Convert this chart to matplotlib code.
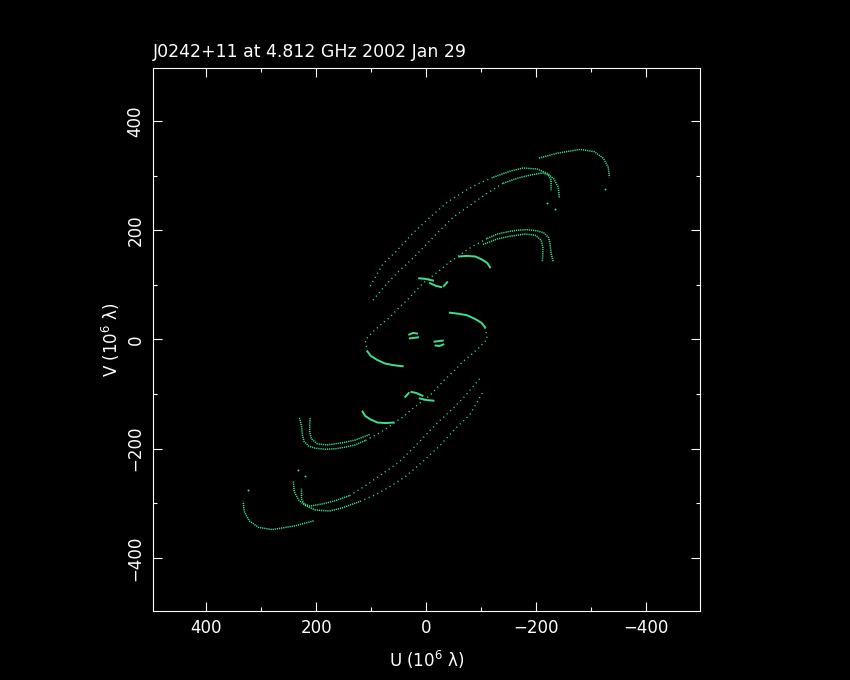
import numpy as np
import matplotlib.pyplot as plt

title = 'J0242+11 at 4.812 GHz 2002 Jan 29'
green = '#3de08c'

# outermost arc, top right
a_u = [-205, -238, -280, -305, -322, -331, -333]
a_v = [332, 341, 348, 344, 332, 315, 297]

# long outer track: fast part, then the hook
b_line_u = [102, 79, 53, 24, -7, -38, -67, -92, -122]
b_line_v = [98, 138, 163, 195, 224, 251, 270, 284, 297]
b_curl_u = [-122, -152, -176, -202, -220, -232, -240, -242]
b_curl_v = [297, 308, 314, 312, 304, 294, 279, 259]

# second long track
c_line_u = [97, 71, 48, 24, -2, -25, -49, -80, -111, -140]
c_line_v = [72, 103, 127, 149, 176, 200, 224, 246, 268, 286]
c_curl_u = [-140, -165, -189, -212, -222, -227, -227]
c_curl_v = [286, 295, 301, 305, 301, 292, 273]

# third track, with a slow hook near the centre
e_hook_u = [43, 60, 75, 90, 101, 107]
e_hook_v = [-49, -47, -44, -37, -30, -22]
e_line_u = [107, 111, 98, 84, 66, 51, 35, 20, 6, -11, -25, -40, -56, -71, -85, -111]
e_line_v = [-22, -1, 13, 26, 41, 57, 72, 88, 103, 116, 127, 140, 151, 162, 171, 185]
e_curl_u = [-111, -129, -147, -165, -183, -202, -214, -222, -225, -227, -231]
e_curl_v = [185, 193, 197, 200, 201, 199, 195, 187, 176, 158, 142]
e2_u = [-103, -129, -152, -180, -198, -209, -212, -212, -211]
e2_v = [174, 184, 189, 193, 191, 182, 169, 158, 142]

# short slow arcs
f_u = [-60, -74, -89, -102, -111, -116]
f_v = [152, 153, 152, 146, 140, 132]
g1_u = [13, 2, -12]
g1_v = [112, 111, 108]
g2_u = [-7, -18, -27]
g2_v = [103, 98, 96]
g3_u = [-32, -38]
g3_v = [98, 105]
cb1_u = [31, 24, 17]
cb1_v = [9, 12, 11]
cb2_u = [30, 22, 15]
cb2_v = [2, 3, 4]

# lone points at track ends
dot_u = [-325, -234, -220]
dot_v = [275, 239, 249]

fig = plt.figure(figsize=(8.5, 6.8), dpi=100, facecolor='black')
ax = fig.add_axes([0.18, 0.1015, 0.643, 0.7985], facecolor='black')

sparse = dict(color=green, lw=1.0, linestyle=(0, (0.8, 2.6)))
dense = dict(color=green, lw=1.1, linestyle=(0, (0.8, 0.6)))
solid = dict(color=green, lw=1.4, linestyle='-')

def track(u, v, style):
    u = np.array(u)
    v = np.array(v)
    ax.plot(u, v, **style)
    ax.plot(-u, -v, **style)

track(a_u, a_v, dense)
track(b_line_u, b_line_v, sparse)
track(b_curl_u, b_curl_v, dense)
track(c_line_u, c_line_v, sparse)
track(c_curl_u, c_curl_v, dense)
track(e_hook_u, e_hook_v, solid)
track(e_line_u, e_line_v, sparse)
track(e_curl_u, e_curl_v, dense)
track(e2_u, e2_v, dense)
track(f_u, f_v, solid)
for gu, gv in [(g1_u, g1_v), (g2_u, g2_v), (g3_u, g3_v), (cb1_u, cb1_v), (cb2_u, cb2_v)]:
    track(gu, gv, solid)
ax.scatter(dot_u, dot_v, s=2, color=green, lw=0)
ax.scatter(-np.array(dot_u), -np.array(dot_v), s=2, color=green, lw=0)

ax.set_xlim(497, -497)
ax.set_ylim(-497, 497)
ax.set_xticks(np.arange(-400, 401, 200))
ax.set_yticks(np.arange(-400, 401, 200))
ax.set_xticks(np.arange(-400, 401, 100), minor=True)
ax.set_yticks(np.arange(-400, 401, 100), minor=True)
ax.tick_params(which='both', direction='in', top=True, right=True,
               colors='white', width=0.8, labelsize=12, pad=6)
ax.tick_params(which='major', length=6.5)
ax.tick_params(which='minor', length=3.2)
for lab in ax.get_yticklabels():
    lab.set_rotation(90)
    lab.set_va('center')
for s in ax.spines.values():
    s.set_color('white')
    s.set_linewidth(0.8)

ax.set_xlabel('U (10$^{6}$ λ)', color='white', fontsize=12, labelpad=8)
ax.set_ylabel('V (10$^{6}$ λ)', color='white', fontsize=12, labelpad=3)
fig.text(0.18, 0.916, title, ha='left', va='baseline', color='white', fontsize=12.5)

fig.savefig('out.png', dpi=100, facecolor='black')
